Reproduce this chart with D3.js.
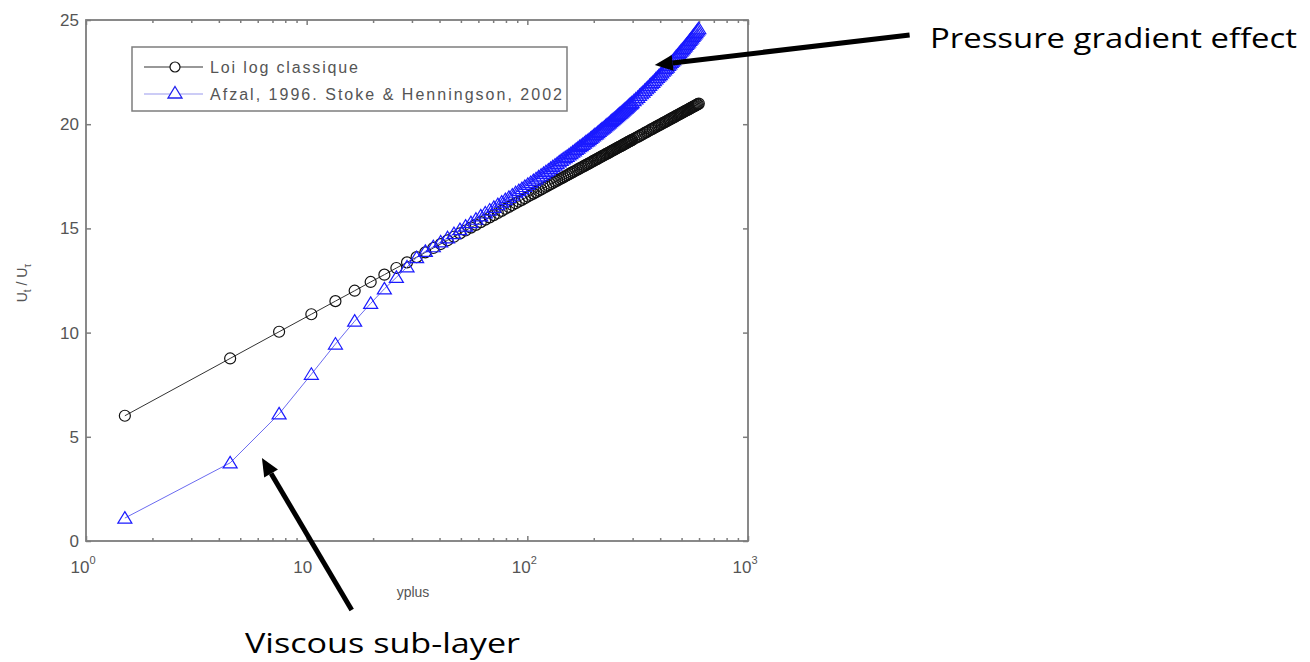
<!DOCTYPE html>
<html>
<head>
<meta charset="utf-8">
<script src="https://cdnjs.cloudflare.com/ajax/libs/d3/7.8.5/d3.min.js"></script>
<style>
  body { margin: 0; background: #fff; }
  svg { display: block; }
  .tick-label { font-family: "Liberation Sans", Arial, sans-serif; fill: #555; }
  .note { font-family: "Open Sans", "Noto Sans", sans-serif; fill: #000; }
</style>
</head>
<body>
<div id="chart"></div>
<script>
// yplus sample positions (same for both series)
const YPLUS = [1.5, 4.5, 7.5, 10.5, 13.5, 16.5, 19.5, 22.5, 25.5, 28.5,
  31.5, 34.5, 37.5, 40.5, 43.5, 46.5, 49.5, 52.5, 55.5, 58.5,
  61.5, 64.5, 67.5, 70.5, 73.5, 76.5, 79.5, 82.5, 85.5, 88.5,
  91.5, 94.5, 97.5, 100.5, 103.5, 106.5, 109.5, 112.5, 115.5, 118.5,
  121.5, 124.5, 127.5, 130.5, 133.5, 136.5, 139.5, 142.5, 145.5, 148.5,
  154.5, 160.5, 166.5, 172.5, 178.5, 184.5, 190.5, 196.5, 202.5, 208.5,
  214.5, 220.5, 226.5, 232.5, 238.5, 244.5, 250.5, 256.5, 262.5, 268.5,
  274.5, 280.5, 286.5, 292.5, 298.5, 310.5, 322.5, 334.5, 346.5, 358.5,
  370.5, 382.5, 394.5, 406.5, 418.5, 430.5, 442.5, 454.5, 466.5, 478.5,
  490.5, 502.5, 514.5, 526.5, 538.5, 550.5, 562.5, 574.5, 586.5, 598.5];

// "Loi log classique"
const LOG_LAW = [6.01, 8.76, 10.04, 10.88, 11.51, 12.01, 12.43, 12.78, 13.10, 13.37,
  13.62, 13.85, 14.06, 14.25, 14.43, 14.60, 14.76, 14.90, 15.04, 15.17,
  15.30, 15.42, 15.53, 15.64, 15.74, 15.84, 15.94, 16.03, 16.12, 16.21,
  16.29, 16.37, 16.45, 16.53, 16.60, 16.67, 16.74, 16.81, 16.87, 16.94,
  17.00, 17.06, 17.12, 17.18, 17.24, 17.29, 17.35, 17.40, 17.45, 17.50,
  17.60, 17.70, 17.79, 17.88, 17.96, 18.05, 18.12, 18.20, 18.28, 18.35,
  18.42, 18.49, 18.56, 18.62, 18.69, 18.75, 18.81, 18.87, 18.93, 18.98,
  19.04, 19.09, 19.15, 19.20, 19.25, 19.35, 19.44, 19.53, 19.62, 19.71,
  19.79, 19.87, 19.95, 20.02, 20.09, 20.16, 20.23, 20.30, 20.36, 20.43,
  20.49, 20.55, 20.61, 20.67, 20.72, 20.78, 20.83, 20.88, 20.94, 20.99];

// "Afzal, 1996. Stoke & Henningson, 2002"
const AFZAL = [1.10, 3.75, 6.10, 8.00, 9.45, 10.55, 11.40, 12.10, 12.65, 13.15,
  13.60, 13.90, 14.12, 14.35, 14.55, 14.75, 14.94, 15.11, 15.28, 15.44,
  15.60, 15.74, 15.88, 16.01, 16.14, 16.26, 16.38, 16.49, 16.60, 16.71,
  16.81, 16.91, 17.01, 17.11, 17.20, 17.29, 17.38, 17.47, 17.55, 17.64,
  17.72, 17.80, 17.88, 17.96, 18.04, 18.11, 18.19, 18.26, 18.33, 18.40,
  18.53, 18.66, 18.79, 18.92, 19.03, 19.16, 19.26, 19.38, 19.50, 19.60,
  19.71, 19.81, 19.92, 20.02, 20.12, 20.22, 20.31, 20.41, 20.51, 20.59,
  20.69, 20.77, 20.87, 20.96, 21.04, 21.21, 21.38, 21.54, 21.70, 21.86,
  22.01, 22.17, 22.32, 22.46, 22.60, 22.74, 22.89, 23.03, 23.16, 23.30,
  23.43, 23.57, 23.70, 23.83, 23.95, 24.08, 24.21, 24.33, 24.46, 24.58];

// extra samples in between, in the dense part of the curves
const YPLUS_2 = [151.5, 157.5, 163.5, 169.5, 175.5, 181.5, 187.5, 193.5, 199.5, 205.5,
  211.5, 217.5, 223.5, 229.5, 235.5, 241.5, 247.5, 253.5, 259.5, 265.5,
  271.5, 277.5, 283.5, 289.5, 295.5, 304.5, 316.5, 328.5, 340.5, 352.5,
  364.5, 376.5, 388.5, 400.5, 412.5, 424.5, 436.5, 448.5, 460.5, 472.5,
  484.5, 496.5, 508.5, 520.5, 532.5, 544.5, 556.5, 568.5, 580.5, 592.5];
const LOG_LAW_2 = [17.55, 17.65, 17.74, 17.83, 17.92, 18.00, 18.08, 18.16, 18.24, 18.31,
  18.39, 18.46, 18.52, 18.59, 18.65, 18.72, 18.78, 18.84, 18.90, 18.95,
  19.01, 19.06, 19.12, 19.17, 19.22, 19.30, 19.39, 19.49, 19.58, 19.66,
  19.75, 19.83, 19.91, 19.98, 20.06, 20.13, 20.20, 20.27, 20.33, 20.40,
  20.46, 20.52, 20.58, 20.64, 20.69, 20.75, 20.80, 20.86, 20.91, 20.96];
const AFZAL_2 = [18.46, 18.59, 18.72, 18.85, 18.97, 19.09, 19.20, 19.32, 19.44, 19.54,
  19.66, 19.76, 19.86, 19.97, 20.06, 20.17, 20.27, 20.36, 20.46, 20.54,
  20.64, 20.73, 20.82, 20.91, 20.99, 21.13, 21.29, 21.46, 21.62, 21.78,
  21.94, 22.09, 22.24, 22.38, 22.54, 22.68, 22.82, 22.96, 23.09, 23.24,
  23.37, 23.50, 23.63, 23.76, 23.89, 24.02, 24.14, 24.27, 24.39, 24.52];

const SERIES_NAMES = ["Loi log classique", "Afzal, 1996. Stoke & Henningson, 2002"];
const X_TICKS = [1, 10, 100, 1000];
const X_TICK_LABELS = [["10", "0"], ["10", ""], ["10", "2"], ["10", "3"]];
const Y_TICKS = [0, 5, 10, 15, 20, 25];

// annotations: [tail x, tail y, tip x, tip y] in data units
const NOTE_PRESSURE = [5400, 24.28, 378, 22.84];
const NOTE_VISCOUS = [16.0, -3.31, 6.27, 3.98];

const WIDTH = 1310, HEIGHT = 662;
const PLOT = {left: 86, right: 748, top: 20, bottom: 541};

const SVG = d3.select("#chart").append("svg")
  .attr("width", WIDTH).attr("height", HEIGHT);

const X = d3.scaleLog().domain([1, 1000]).range([PLOT.left, PLOT.right]);
const Y = d3.scaleLinear().domain([0, 25]).range([PLOT.bottom, PLOT.top]);

// minor ticks for the log axis
const minors = [];
[1, 10, 100].forEach((d) => { for (let k = 2; k <= 9; k++) minors.push(d * k); });

const AXIS_COL = "#7d7d7d";

function styleAxis(g) {
  g.select(".domain").remove();
  g.selectAll("line").attr("stroke", AXIS_COL).attr("stroke-width", 1.5);
}

// bottom / top log ticks (pointing inwards)
SVG.append("g").attr("transform", "translate(0," + PLOT.bottom + ")")
  .call(d3.axisBottom(X).tickValues(minors).tickSize(-3).tickFormat("")).call(styleAxis);
SVG.append("g").attr("transform", "translate(0," + PLOT.bottom + ")")
  .call(d3.axisBottom(X).tickValues(X_TICKS).tickSize(-5).tickFormat("")).call(styleAxis);
SVG.append("g").attr("transform", "translate(0," + PLOT.top + ")")
  .call(d3.axisTop(X).tickValues(minors).tickSize(-3).tickFormat("")).call(styleAxis);
SVG.append("g").attr("transform", "translate(0," + PLOT.top + ")")
  .call(d3.axisTop(X).tickValues(X_TICKS).tickSize(-5).tickFormat("")).call(styleAxis);

// left / right ticks
SVG.append("g").attr("transform", "translate(" + PLOT.left + ",0)")
  .call(d3.axisLeft(Y).tickValues(Y_TICKS).tickSize(-5).tickFormat("")).call(styleAxis);
SVG.append("g").attr("transform", "translate(" + PLOT.right + ",0)")
  .call(d3.axisRight(Y).tickValues(Y_TICKS).tickSize(-5).tickFormat("")).call(styleAxis);

// box
SVG.append("rect")
  .attr("x", PLOT.left).attr("y", PLOT.top)
  .attr("width", PLOT.right - PLOT.left).attr("height", PLOT.bottom - PLOT.top)
  .attr("fill", "none").attr("stroke", AXIS_COL).attr("stroke-width", 1.8);

// y tick labels
SVG.selectAll(".ylab").data(Y_TICKS).enter().append("text")
  .attr("class", "tick-label")
  .attr("x", PLOT.left - 7)
  .attr("y", (d) => Y(d) + 6)
  .attr("text-anchor", "end")
  .attr("font-size", "17px")
  .text((d) => d);

// x tick labels with exponents
const xl = SVG.selectAll(".xlab").data(X_TICKS).enter().append("text")
  .attr("class", "tick-label")
  .attr("x", (d, i) => X(d) + (X_TICK_LABELS[i][1] ? -3 : -4))
  .attr("y", PLOT.bottom + 32)
  .attr("text-anchor", "middle")
  .attr("font-size", "17px");
xl.append("tspan").text((d, i) => X_TICK_LABELS[i][0]);
xl.append("tspan").attr("dy", -9).attr("font-size", "11px").text((d, i) => X_TICK_LABELS[i][1]);

// axis titles
SVG.append("text").attr("class", "tick-label")
  .attr("x", 413).attr("y", 597)
  .attr("text-anchor", "middle").attr("font-size", "14px")
  .text("yplus");

const ylab = SVG.append("text").attr("class", "tick-label")
  .attr("transform", "translate(27,283) rotate(-90)")
  .attr("text-anchor", "middle").attr("font-size", "14px");
ylab.append("tspan").text("U");
ylab.append("tspan").attr("dy", 4).attr("font-size", "10px").text("t");
ylab.append("tspan").attr("dy", -4).text(" / U");
ylab.append("tspan").attr("dy", 4).attr("font-size", "10px").text("τ");

// data: merge both sample sets, sorted by yplus
const logData = YPLUS.map((x, i) => ({x: x, y: LOG_LAW[i]}))
  .concat(YPLUS_2.map((x, i) => ({x: x, y: LOG_LAW_2[i]})))
  .sort((a, b) => a.x - b.x);
const afzData = YPLUS.map((x, i) => ({x: x, y: AFZAL[i]}))
  .concat(YPLUS_2.map((x, i) => ({x: x, y: AFZAL_2[i]})))
  .sort((a, b) => a.x - b.x);

const LINE = d3.line().x((d) => X(d.x)).y((d) => Y(d.y));
const TRI = "M0,-6.5L7,5L-7,5Z";

SVG.append("path").datum(logData)
  .attr("d", LINE).attr("fill", "none").attr("stroke", "#333").attr("stroke-width", 1);
SVG.append("g").selectAll("circle").data(logData).enter().append("circle")
  .attr("cx", (d) => X(d.x)).attr("cy", (d) => Y(d.y)).attr("r", 5.5)
  .attr("fill", "none").attr("stroke", "#111").attr("stroke-width", 1.2);

SVG.append("path").datum(afzData)
  .attr("d", LINE).attr("fill", "none").attr("stroke", "#6b6bf0").attr("stroke-width", 1);
SVG.append("g").selectAll("path").data(afzData).enter().append("path")
  .attr("d", TRI)
  .attr("transform", (d) => "translate(" + X(d.x) + "," + Y(d.y) + ")")
  .attr("fill", "none").attr("stroke", "#1a1aff").attr("stroke-width", 1.2);

// legend
const LEG = SVG.append("g");
LEG.append("rect").attr("x", 132).attr("y", 47).attr("width", 435).attr("height", 64)
  .attr("fill", "#fff").attr("stroke", AXIS_COL).attr("stroke-width", 1.5);
const legRows = [
  {y: 67, line: "#333", mark: "#111", circle: true},
  {y: 94, line: "#9a9aee", mark: "#2222ee", circle: false}
];
legRows.forEach((r, i) => {
  LEG.append("line").attr("x1", 144).attr("x2", 203).attr("y1", r.y).attr("y2", r.y)
    .attr("stroke", r.line).attr("stroke-width", 1.2);
  if (r.circle) {
    LEG.append("circle").attr("cx", 175).attr("cy", r.y).attr("r", 5)
      .attr("fill", "#fff").attr("stroke", r.mark).attr("stroke-width", 1.2);
  } else {
    LEG.append("path").attr("d", TRI).attr("transform", "translate(175," + (r.y - 1) + ")")
      .attr("fill", "#fff").attr("stroke", r.mark).attr("stroke-width", 1.3);
  }
  LEG.append("text").attr("class", "tick-label")
    .attr("x", 210).attr("y", r.y + 6)
    .attr("font-size", "16px")
    .attr("textLength", i === 0 ? 148 : 352).attr("lengthAdjust", "spacing")
    .text(SERIES_NAMES[i]);
});

// arrows
function arrow(n) {
  const x1 = X(n[0]), y1 = Y(n[1]), x2 = X(n[2]), y2 = Y(n[3]);
  const a = Math.atan2(y2 - y1, x2 - x1);
  const L = 18, W = 8;
  const bx = x2 - L * Math.cos(a), by = y2 - L * Math.sin(a);
  SVG.append("line").attr("x1", x1).attr("y1", y1).attr("x2", bx).attr("y2", by)
    .attr("stroke", "#000").attr("stroke-width", 5);
  SVG.append("path")
    .attr("d", "M" + x2 + "," + y2 +
      "L" + (bx + W * Math.sin(a)) + "," + (by - W * Math.cos(a)) +
      "L" + (bx - W * Math.sin(a)) + "," + (by + W * Math.cos(a)) + "Z")
    .attr("fill", "#000");
}
arrow(NOTE_PRESSURE);
arrow(NOTE_VISCOUS);

SVG.append("text").attr("class", "note")
  .attr("x", 930).attr("y", 48).attr("font-size", "27px")
  .attr("textLength", 367).attr("lengthAdjust", "spacingAndGlyphs")
  .text("Pressure gradient effect");
SVG.append("text").attr("class", "note")
  .attr("x", 245).attr("y", 653).attr("font-size", "27px")
  .attr("textLength", 275).attr("lengthAdjust", "spacingAndGlyphs")
  .text("Viscous sub-layer");
</script>
</body>
</html>
